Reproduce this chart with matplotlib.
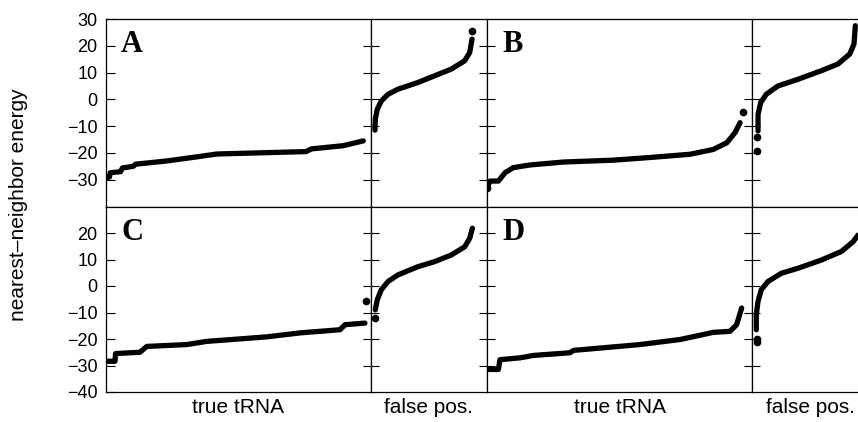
import matplotlib.pyplot as plt

plt.rcParams['font.family'] = ['Liberation Sans', 'DejaVu Sans']

# x = position along each sub-panel in percent, y = nearest-neighbor energy
# panel A
a_true_x = [0, 1.3, 1.6, 5.5, 6.2, 10.3, 11.2, 22.9, 35.5, 41.8, 75.5, 77.5, 89.5, 93.3, 97.1]
a_true_y = [-29.2, -29.0, -27.4, -27.0, -25.6, -25.0, -24.2, -23.0, -21.3, -20.4, -19.5,
            -18.5, -17.3, -16.4, -15.5]
a_false_x = [3.4, 3.7, 5.4, 8.9, 14.7, 23.3, 40.5, 54.9, 69.2, 80.8, 85.1, 87.1]
a_false_y = [-11.5, -7.4, -3.7, -0.6, 1.9, 3.8, 6.3, 8.8, 11.3, 14.4, 17.5, 22.5]
a_dots_x = [87.1]
a_dots_y = [25.6]

# panel B
b_true_x = [0.1, 1.1, 4.3, 6.8, 9.9, 16.2, 28.8, 47.7, 60.3, 76.6, 85.4, 90.5, 93.6, 95.5]
b_true_y = [-33.0, -30.5, -30.5, -27.4, -25.5, -24.5, -23.4, -22.7, -21.8, -20.5, -18.7,
            -16.2, -12.4, -8.7]
b_true_dots_x = [0.1, 96.7]
b_true_dots_y = [-33.0, -4.6]
b_false_x = [5.2, 5.2, 7.5, 12.3, 22.4, 39.7, 59.8, 74.1, 84.2, 87.9, 89.1]
b_false_y = [-11.8, -5.6, -1.2, 1.9, 5.0, 7.5, 10.7, 13.2, 16.9, 20.6, 27.5]
b_false_dots_x = [4.6, 4.6]
b_false_dots_y = [-19.3, -14.0]

# panel C
c_true_x = [0, 3.4, 3.6, 12.8, 15.4, 30.5, 38, 60.6, 73.2, 88.3, 90.2, 97.7]
c_true_y = [-28.4, -28.4, -25.5, -25.0, -22.8, -22.1, -20.9, -19.2, -17.7, -16.5, -14.6, -14.0]
c_true_dots_x = [98.1]
c_true_dots_y = [-5.8]
c_false_x = [3.7, 5.4, 8.9, 14.7, 23.3, 40.5, 54.9, 69.2, 80.8, 85.1, 87.4]
c_false_y = [-9.0, -5.2, -1.4, 1.7, 4.2, 7.3, 9.2, 11.7, 14.8, 18.0, 21.8]
c_false_dots_x = [3.7]
c_false_dots_y = [-12.1]

# panel D
d_true_x = [0, 4.3, 4.9, 12.5, 17.5, 31.3, 32.6, 57.7, 72.8, 85.4, 91.7, 94.2, 96.1]
d_true_y = [-31.5, -31.5, -27.8, -27.1, -26.2, -25.2, -24.3, -22.1, -20.2, -17.5, -17.1,
            -14.6, -8.3]
d_false_x = [3.7, 3.7, 5.2, 8.0, 13.8, 25.3, 39.7, 59.8, 77.0, 87.1, 91.4]
d_false_y = [-16.5, -10.8, -5.8, -1.4, 1.7, 4.8, 6.7, 9.8, 13.0, 16.7, 19.2]
d_false_dots_x = [4.2, 4.2]
d_false_dots_y = [-21.2, -20.0]

panels = [
    ('A', a_true_x, a_true_y, [], [], a_false_x, a_false_y, a_dots_x, a_dots_y),
    ('B', b_true_x, b_true_y, b_true_dots_x, b_true_dots_y,
     b_false_x, b_false_y, b_false_dots_x, b_false_dots_y),
    ('C', c_true_x, c_true_y, c_true_dots_x, c_true_dots_y,
     c_false_x, c_false_y, c_false_dots_x, c_false_dots_y),
    ('D', d_true_x, d_true_y, [], [], d_false_x, d_false_y, d_false_dots_x, d_false_dots_y),
]

W, H = 858, 422
fig = plt.figure(figsize=(W / 100, H / 100), dpi=100)

cols = [106, 371, 487, 752, 868]
rows = [(19, 206.5), (206.5, 392)]


def make_ax(c0, c1, r0, r1):
    return fig.add_axes([c0 / W, 1 - r1 / H, (c1 - c0) / W, (r1 - r0) / H])


for i, (letter, tx, ty, tdx, tdy, fx, fy, fdx, fdy) in enumerate(panels):
    r = i // 2
    p = i % 2
    r0, r1 = rows[r]
    ax_t = make_ax(cols[2 * p], cols[2 * p + 1], r0, r1)
    ax_f = make_ax(cols[2 * p + 1], cols[2 * p + 2], r0, r1)

    for j, (ax, x, y, dx, dy) in enumerate([(ax_t, tx, ty, tdx, tdy), (ax_f, fx, fy, fdx, fdy)]):
        ax.plot(x, y, color='black', lw=3.8, solid_capstyle='round', solid_joinstyle='round')
        if dx:
            ax.plot(dx, dy, 'o', color='black', ms=4.5, linestyle='none')
        ax.set_xlim(0, 100)
        ax.set_ylim(-40, 30)
        ax.set_xticks([])
        for s in ax.spines.values():
            s.set_linewidth(0.9)
        first = (p == 0 and j == 0)
        if first:
            ax.set_yticks(range(-30, 31, 10) if r == 0 else range(-40, 21, 10))
            ax.tick_params(axis='y', direction='in', length=6.5, width=0.8, pad=6, labelsize=13)
        else:
            ax.set_yticks(range(-30, 21, 10))
            ax.tick_params(axis='y', direction='inout', length=11.5, width=0.8, labelleft=False)
        if r == 1:
            ax.set_xlabel('true tRNA' if j == 0 else 'false pos.', fontsize=15, labelpad=4)

    ax_t.text(0.057, 0.94, letter, transform=ax_t.transAxes, ha='left', va='top',
              fontsize=22, fontweight='bold', family='Liberation Serif')

fig.text(0.021, 0.514, 'nearest\u2013neighbor energy', rotation=90, ha='center', va='center',
         fontsize=15)

plt.savefig('out.png', dpi=100)
